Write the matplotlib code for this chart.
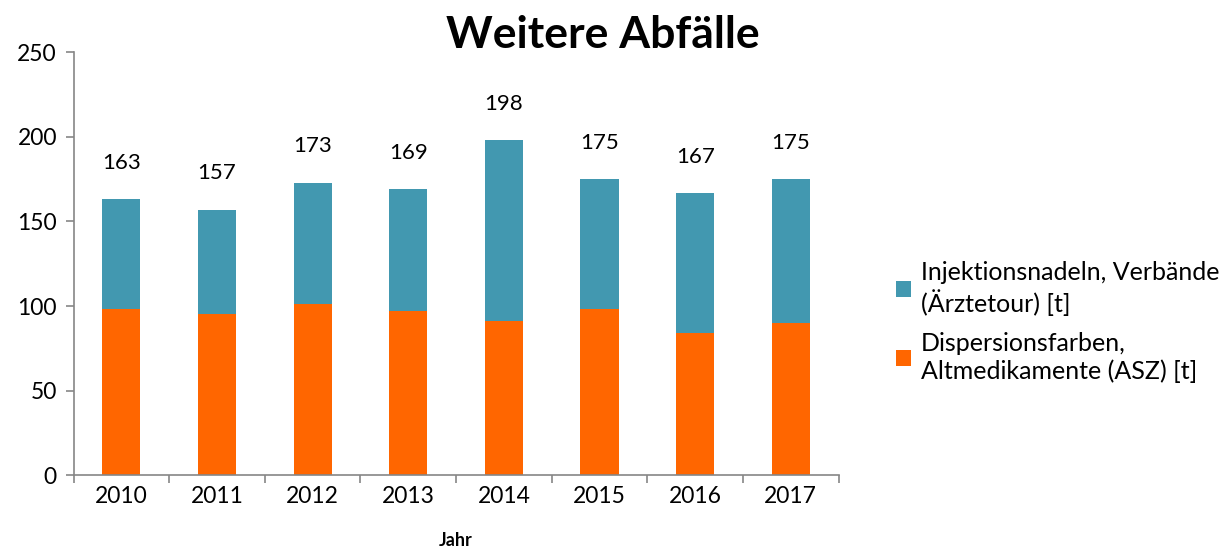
import matplotlib.pyplot as plt
import numpy as np

plt.rcParams['font.family'] = ['Lato', 'DejaVu Sans']

years = ['2010', '2011', '2012', '2013', '2014', '2015', '2016', '2017']
totals = [163, 157, 173, 169, 198, 175, 167, 175]
farben = [98, 95, 101, 97, 91, 98, 84, 90]
nadeln = [t - f for t, f in zip(totals, farben)]

c_blue = '#4298B0'
c_orange = '#FF6600'
c_axis = '#868686'

fig = plt.figure(figsize=(12.26, 5.5), dpi=100)
ax = fig.add_axes([0.060, 0.136, 0.624, 0.769])

x = np.arange(len(years))
ax.bar(x, farben, width=0.4, color=c_orange, label='Dispersionsfarben,\nAltmedikamente (ASZ) [t]')
ax.bar(x, nadeln, width=0.4, bottom=farben, color=c_blue, label='Injektionsnadeln, Verbände\n(Ärztetour) [t]')

for xi, t in zip(x, totals):
    ax.annotate(str(t), (xi, t), xytext=(0, 26), textcoords='offset points',
                ha='center', va='center', fontsize=16)

ax.set_xlim(-0.5, len(years) - 0.5)
ax.set_ylim(0, 250)
ax.set_yticks([0, 50, 100, 150, 200, 250])
ax.set_xticks(x)
ax.set_xticklabels(years)
ax.set_xticks(np.arange(len(years) + 1) - 0.5, minor=True)
ax.tick_params(axis='x', which='major', length=0, labelsize=16.5, pad=8)
ax.tick_params(axis='x', which='minor', length=6, color=c_axis, width=1.2)
ax.tick_params(axis='y', length=6, color=c_axis, width=1.2, labelsize=16.5, pad=6)

for s in ['top', 'right']:
    ax.spines[s].set_visible(False)
for s in ['left', 'bottom']:
    ax.spines[s].set_color(c_axis)
    ax.spines[s].set_linewidth(1.2)

ax.set_xlabel('Jahr', fontsize=13, fontweight='bold', labelpad=18)
fig.text(0.492, 0.937, 'Weitere Abfälle', ha='center', va='center', fontsize=32, fontweight='bold')

handles, labels = ax.get_legend_handles_labels()
ax.legend(handles[::-1], labels[::-1], loc='center left', bbox_to_anchor=(1.045, 0.362),
          frameon=False, fontsize=18, handlelength=0.6, handleheight=0.6,
          handletextpad=0.4, labelspacing=0.66)

fig.savefig('out.png', dpi=100)
